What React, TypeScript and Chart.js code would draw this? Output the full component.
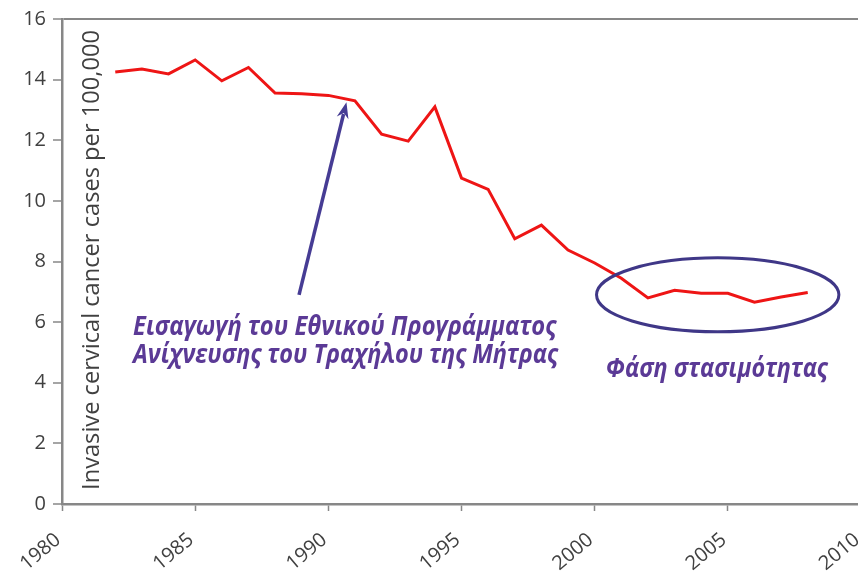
import React, { useEffect, useRef } from "react";
import { Chart, registerables } from "chart.js";

Chart.register(...registerables);

const years = [1982, 1983, 1984, 1985, 1986, 1987, 1988, 1989, 1990, 1991, 1992, 1993, 1994, 1995, 1996, 1997, 1998, 1999, 2000, 2001, 2002, 2003, 2004, 2005, 2006, 2007, 2008];
const rates = [14.25, 14.35, 14.19, 14.65, 13.96, 14.4, 13.56, 13.53, 13.48, 13.3, 12.2, 11.97, 13.1, 10.75, 10.38, 8.75, 9.2, 8.38, 7.95, 7.45, 6.8, 7.05, 6.95, 6.95, 6.66, 6.83, 6.98];

const xMin = 1980;
const xMax = 2010;
const xStep = 5;
const yMin = 0;
const yMax = 16;
const yStep = 2;

const yAxisTitle = "Invasive cervical cancer cases per 100,000";
const noteLines = ["Εισαγωγή του Εθνικού Προγράμματος", "Ανίχνευσης του Τραχήλου της Μήτρας"];
const plateauLabel = "Φάση στασιμότητας";

// annotation anchors in data coordinates
const arrowFrom = { x: 1988.9, y: 6.9 };
const arrowTo = { x: 1990.68, y: 13.25 };
const noteAnchor = { x: 1982.67, y1: 5.58, y2: 4.65 };
const ellipseAnchor = { x: 2004.62, y: 6.9, rx: 4.55, ry: 1.22 };
const plateauAnchor = { x: 2000.42, y: 4.19 };

const PURPLE_TEXT = "#5b3a96";
const PURPLE_LINE = "#463c94";
const AXIS_GRAY = "#878787";
const TICK_TEXT = "#404040";

function fitFont(ctx: CanvasRenderingContext2D, text: string, style: string, family: string, targetWidth: number) {
  const base = 20;
  ctx.font = `${style} ${base}px ${family}`;
  const w = ctx.measureText(text).width;
  const size = (base * targetWidth) / w;
  return `${style} ${size.toFixed(2)}px ${family}`;
}

function drawTallText(ctx: CanvasRenderingContext2D, text: string, x: number, y: number, sy: number) {
  ctx.save();
  ctx.translate(x, y);
  ctx.scale(1, sy);
  ctx.fillText(text, 0, 0);
  ctx.restore();
}

const annotationPlugin = {
  id: "annotations",
  afterDatasetsDraw(chart: any) {
    const ctx: CanvasRenderingContext2D = chart.ctx;
    const xs = chart.scales.x;
    const ys = chart.scales.y;
    ctx.save();

    // y-axis title inside plot area
    ctx.save();
    ctx.translate(92, 260);
    ctx.rotate(-Math.PI / 2);
    ctx.font = fitFont(ctx, yAxisTitle, "normal", "'Open Sans'", 460);
    ctx.fillStyle = TICK_TEXT;
    ctx.textAlign = "center";
    ctx.textBaseline = "middle";
    ctx.fillText(yAxisTitle, 0, 0);
    ctx.restore();

    // arrow
    const x0 = xs.getPixelForValue(arrowFrom.x);
    const y0 = ys.getPixelForValue(arrowFrom.y);
    const x1 = xs.getPixelForValue(arrowTo.x);
    const y1 = ys.getPixelForValue(arrowTo.y);
    const ang = Math.atan2(y1 - y0, x1 - x0);
    const headLen = 16;
    const headW = 6;
    ctx.strokeStyle = PURPLE_LINE;
    ctx.fillStyle = PURPLE_LINE;
    ctx.lineWidth = 3.5;
    ctx.lineCap = "butt";
    ctx.beginPath();
    ctx.moveTo(x0, y0);
    ctx.lineTo(x1 - Math.cos(ang) * (headLen - 4), y1 - Math.sin(ang) * (headLen - 4));
    ctx.stroke();
    ctx.beginPath();
    ctx.moveTo(x1, y1);
    const bx = x1 - Math.cos(ang) * headLen;
    const by = y1 - Math.sin(ang) * headLen;
    ctx.lineTo(bx + Math.cos(ang + Math.PI / 2) * headW, by + Math.sin(ang + Math.PI / 2) * headW);
    ctx.lineTo(x1 - Math.cos(ang) * (headLen - 5), y1 - Math.sin(ang) * (headLen - 5));
    ctx.lineTo(bx - Math.cos(ang + Math.PI / 2) * headW, by - Math.sin(ang + Math.PI / 2) * headW);
    ctx.closePath();
    ctx.fill();

    // ellipse
    const ecx = xs.getPixelForValue(ellipseAnchor.x);
    const ecy = ys.getPixelForValue(ellipseAnchor.y);
    const erx = Math.abs(xs.getPixelForValue(ellipseAnchor.x + ellipseAnchor.rx) - ecx);
    const ery = Math.abs(ys.getPixelForValue(ellipseAnchor.y + ellipseAnchor.ry) - ecy);
    ctx.lineWidth = 3;
    ctx.strokeStyle = "#3f3787";
    ctx.beginPath();
    ctx.ellipse(ecx, ecy, erx, ery, 0, 0, Math.PI * 2);
    ctx.stroke();

    // note text
    ctx.fillStyle = PURPLE_TEXT;
    ctx.textAlign = "left";
    ctx.textBaseline = "alphabetic";
    const nx = xs.getPixelForValue(noteAnchor.x);
    ctx.font = fitFont(ctx, noteLines[0], "italic bold", "'Open Sans'", 423);
    drawTallText(ctx, noteLines[0], nx, ys.getPixelForValue(noteAnchor.y1), 1.12);
    ctx.font = fitFont(ctx, noteLines[1], "italic bold", "'Open Sans'", 425);
    drawTallText(ctx, noteLines[1], nx, ys.getPixelForValue(noteAnchor.y2), 1.12);

    ctx.font = fitFont(ctx, plateauLabel, "italic bold", "'Open Sans'", 222);
    drawTallText(ctx, plateauLabel, xs.getPixelForValue(plateauAnchor.x), ys.getPixelForValue(plateauAnchor.y), 1.12);

    ctx.restore();
  },
};

export default function App() {
  const ref = useRef<HTMLCanvasElement>(null);

  useEffect(() => {
    document.body.style.overflow = "hidden";
    const canvas = ref.current;
    if (!canvas) return;
    const chart = new Chart(canvas, {
      type: "line",
      data: {
        datasets: [
          {
            data: years.map((y, i) => ({ x: y, y: rates[i] })),
            borderColor: "#ee1515",
            borderWidth: 3,
            pointRadius: 0,
            tension: 0,
            fill: false,
          },
        ],
      },
      options: {
        responsive: false,
        animation: false,
        devicePixelRatio: 1,
        layout: { padding: { top: 19, right: 19, left: 0, bottom: 0 } },
        plugins: {
          legend: { display: false },
          tooltip: { enabled: false },
        },
        scales: {
          x: {
            type: "linear",
            min: xMin,
            max: xMax,
            afterFit(scale: any) {
              scale.height = 69;
              scale.paddingLeft = 0;
              scale.paddingRight = 0;
            },
            ticks: {
              stepSize: xStep,
              maxRotation: 40,
              minRotation: 40,
              color: TICK_TEXT,
              padding: 17,
              labelOffset: -4,
              font: { family: "'Open Sans'", size: 20 },
              callback: (v: any) => String(v),
            },
            grid: {
              drawOnChartArea: false,
              tickLength: 7,
              tickColor: AXIS_GRAY,
              tickWidth: 1.5,
            },
            border: { color: AXIS_GRAY, width: 2.5 },
          },
          y: {
            type: "linear",
            min: yMin,
            max: yMax,
            afterFit(scale: any) {
              scale.width = 62;
              scale.paddingTop = 0;
              scale.paddingBottom = 0;
            },
            ticks: {
              stepSize: yStep,
              color: TICK_TEXT,
              padding: 7,
              font: { family: "'Open Sans'", size: 20 },
            },
            grid: {
              drawOnChartArea: true,
              color: (c: any) => (c.tick && c.tick.value === yMax ? AXIS_GRAY : "rgba(0,0,0,0)"),
              lineWidth: 2,
              tickLength: 9,
              tickColor: AXIS_GRAY,
              tickWidth: 1.5,
            },
            border: { color: AXIS_GRAY, width: 2.5 },
          },
        },
      },
      plugins: [annotationPlugin],
    });
    return () => chart.destroy();
  }, []);

  return (
    <div style={{ position: "fixed", left: 0, top: 0, width: 858, height: 573, overflow: "hidden", background: "#fff" }}>
      <canvas ref={ref} width={880} height={573} style={{ display: "block" }} />
    </div>
  );
}
